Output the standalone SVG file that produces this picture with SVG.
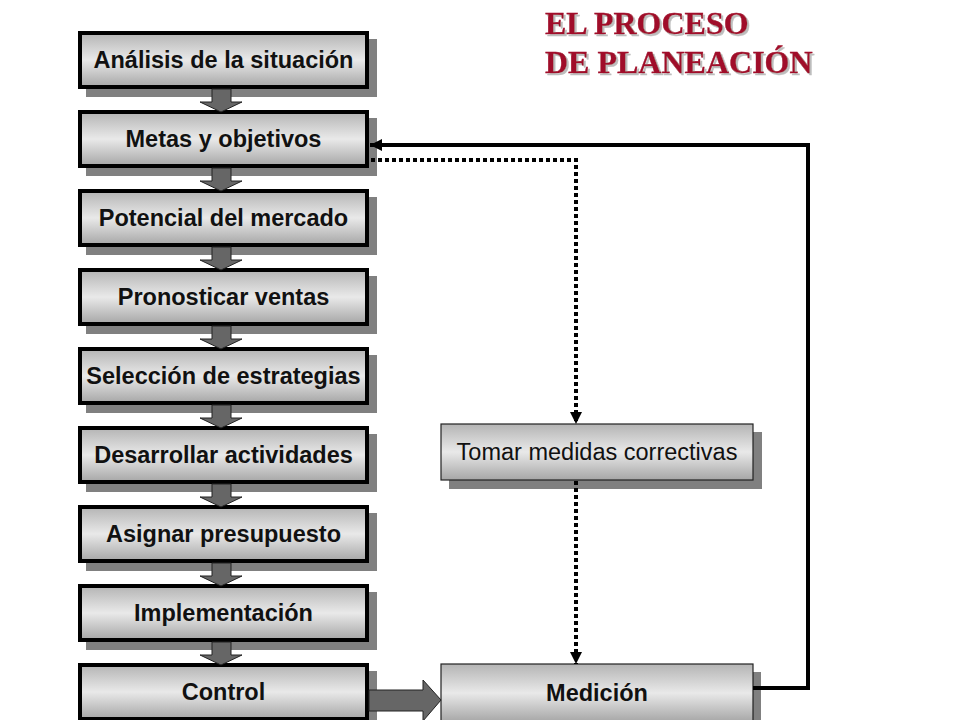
<svg xmlns="http://www.w3.org/2000/svg" width="960" height="720" viewBox="0 0 960 720">
<defs>
  <linearGradient id="g" x1="0" y1="0" x2="0" y2="1">
    <stop offset="0" stop-color="#b4b4b4"/>
    <stop offset="0.5" stop-color="#e9e9e9"/>
    <stop offset="1" stop-color="#a6a6a6"/>
  </linearGradient>
  <filter id="ds" x="-5%" y="-20%" width="110%" height="140%">
    <feDropShadow dx="2" dy="2" stdDeviation="0.6" flood-color="#bdbdbd" flood-opacity="1"/>
  </filter>
  <marker id="ah" viewBox="0 0 10 10" refX="10" refY="5" markerWidth="3" markerHeight="3" orient="auto" markerUnits="strokeWidth">
    <path d="M0,0 L10,5 L0,10 Z" fill="#000"/>
  </marker>
  <marker id="ahd" viewBox="0 0 10 10" refX="10" refY="5" markerWidth="3" markerHeight="3" orient="auto" markerUnits="strokeWidth">
    <path d="M0,0 L10,5 L0,10 Z" fill="#000"/>
  </marker>
</defs>
<style>
  .sh{fill:#808080}
  .bx{fill:url(#g);stroke:#000;stroke-width:4}
  .bx2{fill:url(#g);stroke:#222;stroke-width:1.2}
  .t{font-family:"Liberation Sans",Arial,sans-serif;font-size:23.5px;font-weight:bold;fill:#111;text-anchor:middle}
  .tr{font-family:"Liberation Sans",Arial,sans-serif;font-size:23.5px;fill:#111;text-anchor:middle}
  .ti{font-family:"Liberation Serif","Times New Roman",serif;font-size:32px;font-weight:bold;fill:#a0102a;stroke:#a0102a;stroke-width:0.4}
  .blk{fill:#666;stroke:#222;stroke-width:1}
</style>

<g id="title" filter="url(#ds)">
  <text class="ti" x="545" y="34">EL PROCESO</text>
  <text class="ti" x="545" y="73">DE PLANEACIÓN</text>
</g>

<g id="n1"><rect class="sh" x="86" y="39" width="291" height="58"/><rect class="bx" x="80" y="33" width="287" height="54"/><text class="t" x="223.5" y="68">Análisis de la situación</text></g>
<g id="n2"><rect class="sh" x="86" y="118" width="291" height="58"/><rect class="bx" x="80" y="112" width="287" height="54"/><text class="t" x="223.5" y="147">Metas y objetivos</text></g>
<g id="n3"><rect class="sh" x="86" y="197" width="291" height="58"/><rect class="bx" x="80" y="191" width="287" height="54"/><text class="t" x="223.5" y="226">Potencial del mercado</text></g>
<g id="n4"><rect class="sh" x="86" y="276" width="291" height="58"/><rect class="bx" x="80" y="270" width="287" height="54"/><text class="t" x="223.5" y="305">Pronosticar ventas</text></g>
<g id="n5"><rect class="sh" x="86" y="355" width="291" height="58"/><rect class="bx" x="80" y="349" width="287" height="54"/><text class="t" x="223.5" y="384">Selección de estrategias</text></g>
<g id="n6"><rect class="sh" x="86" y="434" width="291" height="58"/><rect class="bx" x="80" y="428" width="287" height="54"/><text class="t" x="223.5" y="463">Desarrollar actividades</text></g>
<g id="n7"><rect class="sh" x="86" y="513" width="291" height="58"/><rect class="bx" x="80" y="507" width="287" height="54"/><text class="t" x="223.5" y="542">Asignar presupuesto</text></g>
<g id="n8"><rect class="sh" x="86" y="592" width="291" height="58"/><rect class="bx" x="80" y="586" width="287" height="54"/><text class="t" x="223.5" y="621">Implementación</text></g>
<g id="n9"><rect class="sh" x="86" y="671" width="291" height="58"/><rect class="bx" x="80" y="665" width="287" height="54"/><text class="t" x="223.5" y="700">Control</text></g>

<g id="n10"><rect class="sh" x="449" y="432" width="313" height="57"/><rect class="bx2" x="441" y="424" width="312" height="56"/><text class="tr" x="597" y="460">Tomar medidas correctivas</text></g>
<g id="n11"><rect class="sh" x="449" y="672" width="312" height="57"/><rect class="bx2" x="441" y="664" width="312" height="58"/><text class="t" x="597" y="701">Medición</text></g>

<g id="connectors">
  <path class="blk" d="M212,89 L231,89 L231,102 L242,102 L221,112 L200,102 L212,102 Z"/>
  <path class="blk" d="M212,168 L231,168 L231,181 L242,181 L221,191 L200,181 L212,181 Z"/>
  <path class="blk" d="M212,247 L231,247 L231,260 L242,260 L221,270 L200,260 L212,260 Z"/>
  <path class="blk" d="M212,326 L231,326 L231,339 L242,339 L221,349 L200,339 L212,339 Z"/>
  <path class="blk" d="M212,405 L231,405 L231,418 L242,418 L221,428 L200,418 L212,418 Z"/>
  <path class="blk" d="M212,484 L231,484 L231,497 L242,497 L221,507 L200,497 L212,497 Z"/>
  <path class="blk" d="M212,563 L231,563 L231,576 L242,576 L221,586 L200,576 L212,576 Z"/>
  <path class="blk" d="M212,642 L231,642 L231,655 L242,655 L221,665 L200,655 L212,655 Z"/>
  <path class="blk" d="M369,690 L423,690 L423,680 L441,700 L423,721 L423,711 L369,711 Z"/>
  <path d="M753,688 L808,688 L808,145 L370,145" fill="none" stroke="#000" stroke-width="4" marker-end="url(#ah)"/>
  <path d="M371,160 L576,160 L576,424" fill="none" stroke="#000" stroke-width="4" stroke-dasharray="4 3" marker-end="url(#ahd)"/>
  <path d="M576,481 L576,664" fill="none" stroke="#000" stroke-width="4" stroke-dasharray="4 3" marker-end="url(#ahd)"/>
</g>
</svg>
